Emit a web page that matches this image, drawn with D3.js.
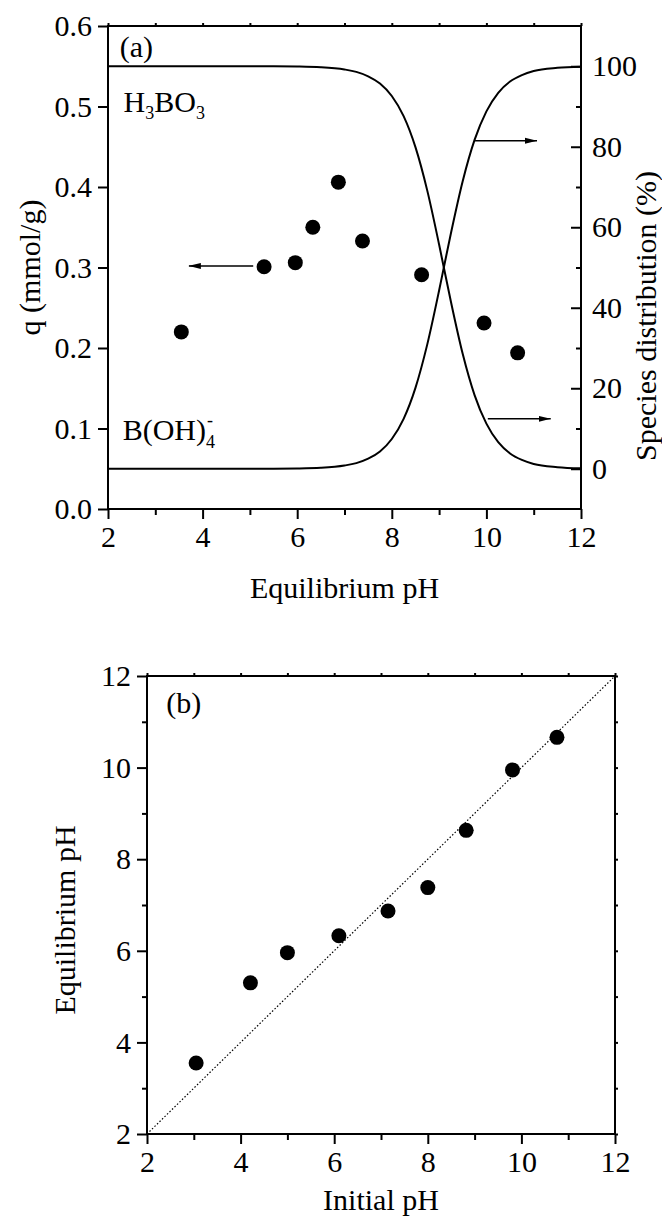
<!DOCTYPE html>
<html>
  <head>
    <meta charset="utf-8" />
    <title>Boron uptake vs pH</title>
    <style>
      body { margin: 0; background: #fff; }
      svg text {
        font-family: 'Liberation Serif', 'Times New Roman', serif;
        font-size: 30px;
        fill: #000;
      }
      .frame { fill: none; stroke: #000; stroke-width: 2px; }
      .axis path { display: none; }
      .axis line { stroke: #000; stroke-width: 2px; }
      .curve { fill: none; stroke: #000; stroke-width: 2px; }
      .arrow { stroke: #000; stroke-width: 1.5px; }
      .diag { stroke: #000; stroke-width: 1.2px; stroke-dasharray: 1.5, 2; }
      .dot { fill: #000; }
    </style>
    <script src="https://d3js.org/d3.v7.min.js"></script>
  </head>
  <body>
    <svg width="662" height="1224"></svg>
    <script>
      // measured points
      var eqPH = [3.55, 5.3, 5.96, 6.33, 6.87, 7.38, 8.63, 9.95, 10.66]
      var qValues = [0.22, 0.301, 0.306, 0.35, 0.406, 0.333, 0.291, 0.231, 0.194]
      var initPH = [3.05, 4.21, 5.0, 6.1, 7.15, 8.0, 8.82, 9.81, 10.76]

      // species distribution (%)
      var curvePH = [2, 3, 4, 5, 5.5, 6, 6.5, 7, 7.25, 7.5, 7.75, 8, 8.25, 8.5, 8.75, 9, 9.1, 9.25, 9.5, 9.75, 10, 10.25, 10.5, 10.75, 11, 11.5, 12]
      var h3bo3 = [100, 100, 100, 99.99, 99.97, 99.92, 99.75, 99.2, 98.6, 97.5, 95.7, 92.6, 87.6, 79.9, 69.1, 55.7, 50, 41.5, 28.5, 18.3, 11.2, 6.6, 3.8, 2.2, 1.2, 0.4, 0.1]
      var boh4 = [0, 0, 0, 0.01, 0.03, 0.08, 0.25, 0.8, 1.4, 2.5, 4.3, 7.4, 12.4, 20.1, 30.9, 44.3, 50, 58.5, 71.5, 81.7, 88.8, 93.4, 96.2, 97.8, 98.8, 99.6, 99.9]

      // ticks
      var phMajor = [2, 4, 6, 8, 10, 12]
      var phMinor = [3, 5, 7, 9, 11]
      var phAll = [2, 3, 4, 5, 6, 7, 8, 9, 10, 11, 12]
      var qTicks = [0, 0.1, 0.2, 0.3, 0.4, 0.5, 0.6]
      var pctMajor = [0, 20, 40, 60, 80, 100]
      var pctMinor = [10, 30, 50, 70, 90]

      // arrows: [x from, x to, level]
      var arrowQ = [[5.07, 3.71, 0.302]]
      var arrowPct = [[9.76, 11.07, 81.5], [10.03, 11.36, 12.4]]

      var svg = d3.select('svg')

      svg.append('defs').append('marker')
        .attr('id', 'head')
        .attr('markerUnits', 'userSpaceOnUse')
        .attr('viewBox', '0 0 12 8')
        .attr('refX', 12).attr('refY', 4)
        .attr('markerWidth', 12).attr('markerHeight', 8)
        .attr('orient', 'auto')
        .append('path').attr('d', 'M0,1L12,4L0,7Z').attr('fill', '#000')

      // ---------- panel (a) ----------
      var a = { left: 108, top: 26, w: 473, h: 483 }
      var ga = svg.append('g').attr('transform', 'translate(' + a.left + ',' + a.top + ')')
      var xa = d3.scaleLinear().domain([2, 12]).range([0, a.w])
      var ya = d3.scaleLinear().domain([0, 0.6]).range([a.h, 0])
      var ya2 = d3.scaleLinear().domain([-10, 110]).range([a.h, 0])

      ga.append('g').attr('class', 'axis').attr('transform', 'translate(0,' + a.h + ')')
        .call(d3.axisBottom(xa).tickValues(phMajor).tickSize(10).tickPadding(7).tickFormat(d3.format('d')))
      ga.append('g').attr('class', 'axis').attr('transform', 'translate(0,' + a.h + ')')
        .call(d3.axisBottom(xa).tickValues(phMinor).tickSize(6).tickFormat(''))
      ga.append('g').attr('class', 'axis')
        .call(d3.axisTop(xa).tickValues(phAll).tickSize(3).tickFormat(''))
      ga.append('g').attr('class', 'axis')
        .call(d3.axisLeft(ya).tickValues(qTicks).tickSize(10).tickPadding(6).tickFormat(d3.format('.1f')))
      ga.append('g').attr('class', 'axis').attr('transform', 'translate(' + a.w + ',0)')
        .call(d3.axisRight(ya2).tickValues(pctMajor).tickSize(-10).tickPadding(11).tickFormat(d3.format('d')))
      ga.append('g').attr('class', 'axis').attr('transform', 'translate(' + a.w + ',0)')
        .call(d3.axisRight(ya2).tickValues(pctMinor).tickSize(-5).tickFormat(''))
      ga.append('rect').attr('class', 'frame').attr('width', a.w).attr('height', a.h)

      var line = d3.line().curve(d3.curveMonotoneX)
        .x(function (d) { return xa(d[0]) })
        .y(function (d) { return ya2(d[1]) })
      ga.selectAll('.curve')
        .data([h3bo3, boh4])
        .enter().append('path')
        .attr('class', 'curve')
        .attr('d', function (vals) {
          return line(curvePH.map(function (p, i) { return [p, vals[i]] }))
        })

      ga.selectAll('.dot')
        .data(eqPH)
        .enter().append('circle')
        .attr('class', 'dot')
        .attr('cx', function (d) { return xa(d) })
        .attr('cy', function (d, i) { return ya(qValues[i]) })
        .attr('r', 7.5)

      ga.selectAll('.arrq').data(arrowQ).enter().append('line')
        .attr('class', 'arrow').attr('marker-end', 'url(#head)')
        .attr('x1', function (d) { return xa(d[0]) })
        .attr('x2', function (d) { return xa(d[1]) })
        .attr('y1', function (d) { return ya(d[2]) })
        .attr('y2', function (d) { return ya(d[2]) })
      ga.selectAll('.arrp').data(arrowPct).enter().append('line')
        .attr('class', 'arrow').attr('marker-end', 'url(#head)')
        .attr('x1', function (d) { return xa(d[0]) })
        .attr('x2', function (d) { return xa(d[1]) })
        .attr('y1', function (d) { return ya2(d[2]) })
        .attr('y2', function (d) { return ya2(d[2]) })

      // labels inside panel (a)
      ga.append('text').attr('x', xa(2.25)).attr('y', ya(0.561)).text('(a)')

      var h = ga.append('text').attr('x', xa(2.33)).attr('y', ya(0.493))
      h.append('tspan').text('H')
      h.append('tspan').attr('dy', 7).style('font-size', '18px').text('3')
      h.append('tspan').attr('dy', -7).text('BO')
      h.append('tspan').attr('dy', 7).style('font-size', '18px').text('3')

      var bx = xa(2.31), by = ya(0.086)
      var b = ga.append('text').attr('x', bx).attr('y', by).text('B(OH)')
      var bw = b.node().getComputedTextLength()
      ga.append('text').attr('x', bx + bw).attr('y', by + 8).style('font-size', '18px').text('4')
      ga.append('text').attr('x', bx + bw + 1).attr('y', by - 14).style('font-size', '18px').text('-')

      // axis titles (a)
      ga.append('text').attr('text-anchor', 'middle')
        .attr('x', a.w / 2).attr('y', 572).text('Equilibrium pH')
      ga.append('text').attr('text-anchor', 'middle')
        .attr('transform', 'translate(-68,' + (a.h / 2) + ') rotate(-90)')
        .text('q (mmol/g)')
      ga.append('text').attr('text-anchor', 'middle')
        .attr('transform', 'translate(' + (a.w + 75) + ',290) rotate(-90)')
        .text('Species distribution (%)')

      // ---------- panel (b) ----------
      var bp = { left: 147, top: 676, w: 468, h: 458 }
      var gb = svg.append('g').attr('transform', 'translate(' + bp.left + ',' + bp.top + ')')
      var xb = d3.scaleLinear().domain([2, 12]).range([0, bp.w])
      var yb = d3.scaleLinear().domain([2, 12]).range([bp.h, 0])

      gb.append('g').attr('class', 'axis').attr('transform', 'translate(0,' + bp.h + ')')
        .call(d3.axisBottom(xb).tickValues(phMajor).tickSize(10).tickPadding(7).tickFormat(d3.format('d')))
      gb.append('g').attr('class', 'axis').attr('transform', 'translate(0,' + bp.h + ')')
        .call(d3.axisBottom(xb).tickValues(phMinor).tickSize(6).tickFormat(''))
      gb.append('g').attr('class', 'axis')
        .call(d3.axisTop(xb).tickValues(phAll).tickSize(3).tickFormat(''))
      gb.append('g').attr('class', 'axis')
        .call(d3.axisLeft(yb).tickValues(phMajor).tickSize(10).tickPadding(6).tickFormat(d3.format('d')))
      gb.append('g').attr('class', 'axis')
        .call(d3.axisLeft(yb).tickValues(phMinor).tickSize(5).tickFormat(''))
      gb.append('g').attr('class', 'axis').attr('transform', 'translate(' + bp.w + ',0)')
        .call(d3.axisRight(yb).tickValues(phAll).tickSize(3).tickFormat(''))
      gb.append('rect').attr('class', 'frame').attr('width', bp.w).attr('height', bp.h)

      // 1:1 line
      gb.append('line').attr('class', 'diag')
        .attr('x1', xb(2)).attr('y1', yb(2))
        .attr('x2', xb(12)).attr('y2', yb(12))

      gb.selectAll('.dot')
        .data(initPH)
        .enter().append('circle')
        .attr('class', 'dot')
        .attr('cx', function (d) { return xb(d) })
        .attr('cy', function (d, i) { return yb(eqPH[i]) })
        .attr('r', 7.5)

      gb.append('text').attr('x', xb(2.41)).attr('y', yb(11.19)).text('(b)')

      gb.append('text').attr('text-anchor', 'middle')
        .attr('x', bp.w / 2).attr('y', bp.h + 76).text('Initial pH')
      gb.append('text').attr('text-anchor', 'middle')
        .attr('transform', 'translate(-72,' + (bp.h / 2 + 15) + ') rotate(-90)')
        .text('Equilibrium pH')
    </script>
  </body>
</html>
